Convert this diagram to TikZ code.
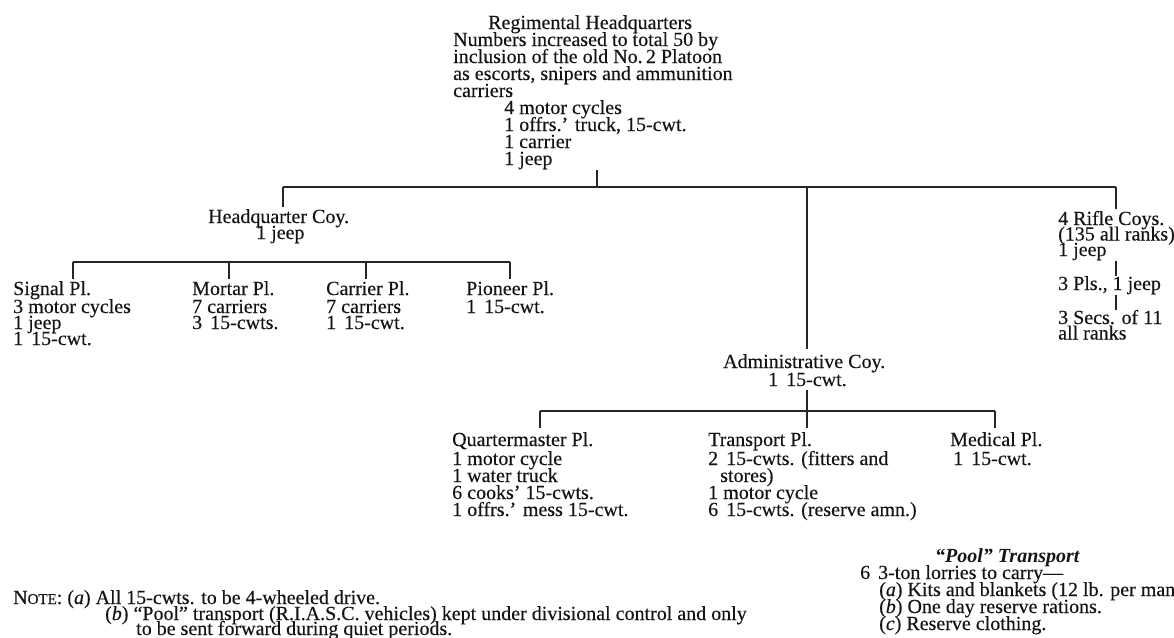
\documentclass[tikz,border=0pt]{standalone}
\usepackage{fontspec}
\setmainfont{Liberation Serif}[UprightFeatures={FakeBold=0.25},ItalicFeatures={FakeBold=0.25}]
\newcommand{\gs}{\hspace{0.4em}}
\newcommand{\tightlines}{\lineskiplimit=-40pt\relax}
\begin{document}
\begin{tikzpicture}[x=1pt,y=-1pt,
  txt/.style={anchor=base west, inner sep=0pt, align=left, text=black!92,
    font=\fontsize{20}{17}\selectfont\tightlines},
  txs/.style={txt, font=\fontsize{20}{15.5}\selectfont\tightlines},
  txd/.style={txt, font=\fontsize{20}{16}\selectfont\tightlines},
  ln/.style={line width=1.3pt, draw=black!85}]
\useasboundingbox[fill=white] (0,0) rectangle (1174,637);
% multi-line nodes are placed at the baseline of their LAST line
% ---------- Regimental HQ ----------
\node[txt] (rhq) at (488,29) {Regimental Headquarters};
\node[txt] (rhqb) at (453,97) {Numbers increased to total 50 by\\inclusion of the old No.\,2 Platoon\\as escorts, snipers and ammunition\\carriers};
\node[txt] (rhqv) at (504,165) {4 motor cycles\\1 offrs.' truck, 15-cwt.\\1 carrier\\1 jeep};
\coordinate (t0) at (597,170);
\coordinate (j0) at (597,187);
\coordinate (mL) at (283,187);
\coordinate (mR) at (1116,187);
\coordinate (jA) at (807,187);
\draw[ln] (t0) -- (j0);
\draw[ln] (mL) -- (mR);
% ---------- Headquarter Coy ----------
\coordinate (hqt) at (283,207);
\draw[ln] (mL) -- (hqt);
\node[txt] (hqc) at (208,223) {Headquarter Coy.};
\node[txt] (hqj) at (256,239) {1 jeep};
\coordinate (hL) at (73,262);
\coordinate (hR) at (510,262);
\coordinate (h2) at (229,262);
\coordinate (h3) at (366,262);
\draw[ln] (hL) -- (hR);
\foreach \c in {hL,h2,h3,hR} \draw[ln] (\c) -- ++(0,17);
\node[txt] (sig) at (13,295) {Signal Pl.};
\node[txd] (sigd) at (13,345) {3 motor cycles\\1 jeep\\1\gs15-cwt.};
\node[txt] (mor) at (192,295) {Mortar Pl.};
\node[txd] (mord) at (192,329) {7 carriers\\3\gs15-cwts.};
\node[txt] (car) at (326,295) {Carrier Pl.};
\node[txd] (card) at (326,329) {7 carriers\\1\gs15-cwt.};
\node[txt] (pio) at (466,295) {Pioneer Pl.};
\node[txt] (piod) at (466,313) {1\gs15-cwt.};
% ---------- Rifle Coys ----------
\coordinate (rt) at (1116,209);
\draw[ln] (mR) -- (rt);
\node[txs] (rif) at (1058,256) {4 Rifle Coys.\\(135 all ranks)\\1 jeep};
\coordinate (r1a) at (1116,261);
\coordinate (r1b) at (1116,276);
\draw[ln] (r1a) -- (r1b);
\node[txs] (pls) at (1058,290) {3 Pls., 1 jeep};
\coordinate (r2a) at (1116,295);
\coordinate (r2b) at (1116,310);
\draw[ln] (r2a) -- (r2b);
\node[txs] (secs) at (1058,339.5) {3 Secs. of 11\\all ranks};
% ---------- Administrative Coy ----------
\coordinate (at) at (807,349);
\draw[ln] (jA) -- (at);
\node[txt] (adm) at (723,368) {Administrative Coy.};
\node[txt] (admd) at (768,386) {1\gs15-cwt.};
\coordinate (a0) at (807,390);
\coordinate (aM) at (807,411);
\coordinate (aL) at (540,411);
\coordinate (aR) at (995,411);
\draw[ln] (a0) -- (aM);
\draw[ln] (aL) -- (aR);
\foreach \c in {aL,aM,aR} \draw[ln] (\c) -- ++(0,17);
\node[txt] (qm) at (452,446) {Quartermaster Pl.};
\node[txt] (qmd) at (452,516) {1 motor cycle\\1 water truck\\6 cooks' 15-cwts.\\1 offrs.' mess 15-cwt.};
\node[txt] (tp) at (708,446) {Transport Pl.};
\node[txt] (tpd) at (708,516) {2\gs15-cwts. (fitters and\\\hspace*{12pt}stores)\\1 motor cycle\\6\gs15-cwts. (reserve amn.)};
\node[txt] (med) at (950,446) {Medical Pl.};
\node[txt] (medd) at (953,465) {1\gs15-cwt.};
% ---------- Pool transport ----------
\node[txt] (pool) at (935,562) {\textbf{\textit{``Pool'' Transport}}};
\node[txt] (poold) at (860,579) {6\gs3-ton lorries to carry---};
\node[txt] (poolx) at (879,630) {(\textit{a}) Kits and blankets (12 lb. per man)\\(\textit{b}) One day reserve rations.\\(\textit{c}) Reserve clothing.};
% ---------- Notes ----------
\node[txt] (note) at (13,604) {N{\fontsize{15}{15}\selectfont OTE}: (\textit{a}) All 15-cwts. to be 4-wheeled drive.};
\node[txt] (noteb) at (105,620) {(\textit{b}) ``Pool'' transport (R.I.A.S.C. vehicles) kept under divisional control and only};
\node[txt] (notec) at (136,635) {to be sent forward during quiet periods.};
\end{tikzpicture}
\end{document}
